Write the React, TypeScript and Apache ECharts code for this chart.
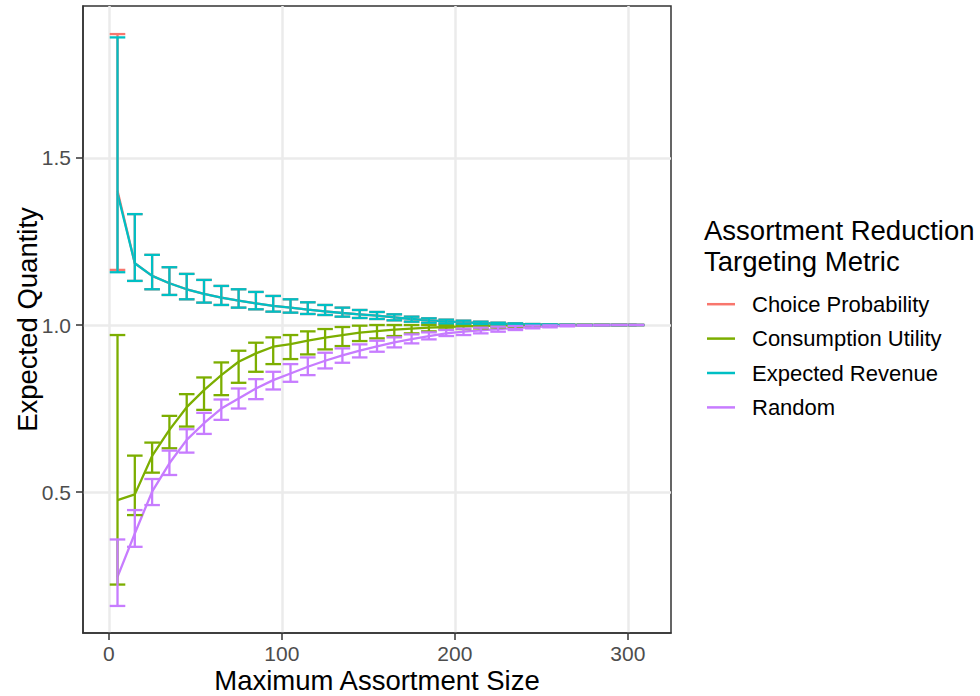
import React, { useEffect, useRef } from "react";
import * as echarts from "echarts";

// ---------- data ----------
const sizes = [5, 15, 25, 35, 45, 55, 65, 75, 85, 95, 105, 115, 125, 135, 145, 155, 165, 175, 185, 195, 205, 215, 225, 235, 245, 255, 265, 275, 285, 295, 305];

const choiceMean = [1.402, 1.185, 1.147, 1.125, 1.107, 1.093, 1.082, 1.073, 1.065, 1.057, 1.052, 1.046, 1.041, 1.036, 1.032, 1.028, 1.023, 1.018, 1.014, 1.011, 1.008, 1.006, 1.004, 1.003, 1.002, 1.001, 1.0005, 1.0, 1.0, 1.0, 1.0];
const choiceUpper = [1.871, 1.332, 1.21, 1.173, 1.153, 1.135, 1.117, 1.107, 1.099, 1.087, 1.077, 1.068, 1.06, 1.052, 1.045, 1.039, 1.032, 1.025, 1.02, 1.016, 1.013, 1.01, 1.007, 1.005, 1.003, 1.002, 1.001, 1.0, 1.0, 1.0, 1.0];
const choiceLower = [1.165, 1.132, 1.107, 1.09, 1.077, 1.067, 1.06, 1.052, 1.047, 1.04, 1.037, 1.033, 1.03, 1.025, 1.021, 1.018, 1.014, 1.01, 1.007, 1.005, 1.004, 1.003, 1.002, 1.001, 1.0005, 1.0, 1.0, 1.0, 1.0, 1.0, 1.0];

const utilityMean = [0.476, 0.493, 0.608, 0.686, 0.754, 0.805, 0.85, 0.89, 0.915, 0.935, 0.943, 0.953, 0.962, 0.97, 0.977, 0.982, 0.986, 0.989, 0.992, 0.994, 0.996, 0.997, 0.998, 0.999, 0.9995, 1.0, 1.0, 1.0, 1.0, 1.0, 1.0];
const utilityUpper = [0.97, 0.609, 0.648, 0.728, 0.793, 0.843, 0.888, 0.923, 0.947, 0.963, 0.97, 0.981, 0.988, 0.994, 0.998, 1.0, 1.0, 1.0, 1.0, 1.0, 1.0, 1.0, 1.0, 1.0, 1.0, 1.0, 1.0, 1.0, 1.0, 1.0, 1.0];
const utilityLower = [0.223, 0.431, 0.558, 0.631, 0.696, 0.746, 0.79, 0.827, 0.86, 0.883, 0.898, 0.912, 0.927, 0.937, 0.952, 0.96, 0.967, 0.975, 0.981, 0.987, 0.988, 0.99, 0.993, 0.995, 0.997, 0.999, 1.0, 1.0, 1.0, 1.0, 1.0];

const revenueMean = [1.394, 1.185, 1.147, 1.125, 1.107, 1.093, 1.082, 1.073, 1.065, 1.057, 1.052, 1.046, 1.041, 1.036, 1.032, 1.028, 1.023, 1.018, 1.014, 1.011, 1.008, 1.006, 1.004, 1.003, 1.002, 1.001, 1.0005, 1.0, 1.0, 1.0, 1.0];
const revenueUpper = [1.861, 1.332, 1.21, 1.173, 1.153, 1.135, 1.117, 1.107, 1.099, 1.087, 1.077, 1.068, 1.06, 1.052, 1.045, 1.039, 1.032, 1.025, 1.02, 1.016, 1.013, 1.01, 1.007, 1.005, 1.003, 1.002, 1.001, 1.0, 1.0, 1.0, 1.0];
const revenueLower = [1.158, 1.132, 1.107, 1.09, 1.077, 1.067, 1.06, 1.052, 1.047, 1.04, 1.037, 1.033, 1.03, 1.025, 1.021, 1.018, 1.014, 1.01, 1.007, 1.005, 1.004, 1.003, 1.002, 1.001, 1.0005, 1.0, 1.0, 1.0, 1.0, 1.0, 1.0];

const randomMean = [0.246, 0.376, 0.501, 0.586, 0.656, 0.706, 0.75, 0.78, 0.81, 0.835, 0.855, 0.875, 0.893, 0.909, 0.923, 0.936, 0.948, 0.958, 0.967, 0.975, 0.98, 0.984, 0.988, 0.991, 0.994, 0.996, 0.998, 0.999, 1.0, 1.0, 1.0];
const randomUpper = [0.358, 0.446, 0.539, 0.624, 0.688, 0.737, 0.777, 0.81, 0.838, 0.86, 0.883, 0.903, 0.917, 0.93, 0.942, 0.953, 0.963, 0.972, 0.978, 0.985, 0.989, 0.992, 0.995, 0.997, 0.998, 0.999, 1.0, 1.0, 1.0, 1.0, 1.0];
const randomLower = [0.159, 0.336, 0.461, 0.551, 0.618, 0.674, 0.716, 0.75, 0.778, 0.807, 0.83, 0.85, 0.87, 0.887, 0.903, 0.92, 0.933, 0.945, 0.957, 0.967, 0.97, 0.975, 0.98, 0.985, 0.99, 0.993, 0.996, 0.998, 0.999, 1.0, 1.0];

const seriesNames = ["Choice Probability", "Consumption Utility", "Expected Revenue", "Random"];
const xTicks = [0, 100, 200, 300];
const yTicks = [0.5, 1.0, 1.5];

// ---------- styling ----------
const COLORS = ["#F8766D", "#7CAE00", "#00BFC4", "#C77CFF"];
const FONT = "Liberation Sans, Arial, Helvetica, sans-serif";
const LINE_W = 2.3;
const ERR_HALF = 4.5; // half of error-bar cap width in x data units

const groups = [
  { mean: choiceMean, upper: choiceUpper, lower: choiceLower },
  { mean: utilityMean, upper: utilityUpper, lower: utilityLower },
  { mean: revenueMean, upper: revenueUpper, lower: revenueLower },
  { mean: randomMean, upper: randomUpper, lower: randomLower },
];

export default function App() {
  const ref = useRef<HTMLDivElement>(null);

  useEffect(() => {
    if (!ref.current) return;
    const chart = echarts.init(ref.current, null, { renderer: "svg" });

    const lineSeries = groups.map((g, i) => ({
      name: seriesNames[i],
      type: "line",
      data: sizes.map((x, k) => [x, g.mean[k]]),
      showSymbol: false,
      symbol: "none",
      lineStyle: { color: COLORS[i], width: LINE_W },
      itemStyle: { color: COLORS[i] },
      z: 2,
    }));

    const errSeries = groups.map((g, i) => ({
      name: seriesNames[i],
      type: "custom",
      data: sizes.map((x, k) => [x, g.lower[k], g.upper[k]]),
      encode: { x: 0, y: [1, 2] },
      itemStyle: { color: COLORS[i] },
      z: 3,
      renderItem: (params: any, api: any) => {
        const x = api.value(0);
        const lo = api.value(1);
        const hi = api.value(2);
        const pLo = api.coord([x, lo]);
        const pHi = api.coord([x, hi]);
        const pL = api.coord([x - ERR_HALF, hi]);
        const pR = api.coord([x + ERR_HALF, hi]);
        const style = { stroke: COLORS[i], lineWidth: LINE_W, fill: "none" };
        return {
          type: "group",
          children: [
            { type: "line", shape: { x1: pLo[0], y1: pLo[1], x2: pHi[0], y2: pHi[1] }, style },
            { type: "line", shape: { x1: pL[0], y1: pLo[1], x2: pR[0], y2: pLo[1] }, style },
            { type: "line", shape: { x1: pL[0], y1: pHi[1], x2: pR[0], y2: pHi[1] }, style },
          ],
        };
      },
    }));

    chart.setOption({
      animation: false,
      textStyle: { fontFamily: FONT },
      grid: {
        left: 83,
        top: 6,
        width: 588,
        height: 627,
        show: true,
        borderColor: "#333333",
        borderWidth: 1.5,
        backgroundColor: "#ffffff",
        containLabel: false,
        outerBoundsMode: "none",
      },
      title: {
        text: "Assortment Reduction\nTargeting Metric",
        left: 704,
        top: 215,
        padding: 0,
        textStyle: { fontFamily: FONT, fontSize: 27.5, fontWeight: "normal", color: "#000000", lineHeight: 31 },
      },
      legend: {
        data: seriesNames,
        orient: "vertical",
        left: 707,
        top: 287,
        padding: 0,
        itemGap: 0,
        icon: "rect",
        itemWidth: 28,
        itemHeight: 2.5,
        selectedMode: false,
        textStyle: { fontFamily: FONT, fontSize: 22, color: "#000000", lineHeight: 34.4, padding: [0, 0, 0, 12] },
      },
      xAxis: {
        type: "value",
        min: -14.95,
        max: 324.95,
        name: "Maximum Assortment Size",
        nameLocation: "middle",
        nameGap: 33,
        nameMoveOverlap: false,
        nameTextStyle: { fontFamily: FONT, fontSize: 27.5, color: "#000000", lineHeight: 28 },
        axisLine: { show: true, onZero: false, lineStyle: { color: "#333333", width: 1.5 } },
        axisTick: { show: true, length: 7, lineStyle: { color: "#333333", width: 1.5 }, customValues: xTicks },
        axisLabel: { show: true, fontFamily: FONT, fontSize: 21, color: "#4D4D4D", margin: 10, customValues: xTicks },
        splitLine: { show: true, lineStyle: { color: "#EBEBEB", width: 2.5 } },
      },
      yAxis: {
        type: "value",
        min: 0.078,
        max: 1.955,
        name: "Expected Quantity",
        nameLocation: "middle",
        nameGap: 42,
        nameMoveOverlap: false,
        nameRotate: 90,
        nameTextStyle: { fontFamily: FONT, fontSize: 27.5, color: "#000000", lineHeight: 28 },
        axisLine: { show: true, onZero: false, lineStyle: { color: "#333333", width: 1.5 } },
        axisTick: { show: true, length: 7, lineStyle: { color: "#333333", width: 1.5 }, customValues: yTicks },
        axisLabel: {
          show: true,
          fontFamily: FONT,
          fontSize: 21,
          color: "#4D4D4D",
          margin: 12,
          customValues: yTicks,
          formatter: (v: number) => v.toFixed(1),
        },
        splitLine: { show: true, lineStyle: { color: "#EBEBEB", width: 2.5 } },
      },
      series: [...lineSeries, ...errSeries],
    });

    return () => chart.dispose();
  }, []);

  return (
    <div
      ref={ref}
      style={{ position: "fixed", left: 0, top: 0, width: 980, height: 696, background: "#ffffff" }}
    />
  );
}
